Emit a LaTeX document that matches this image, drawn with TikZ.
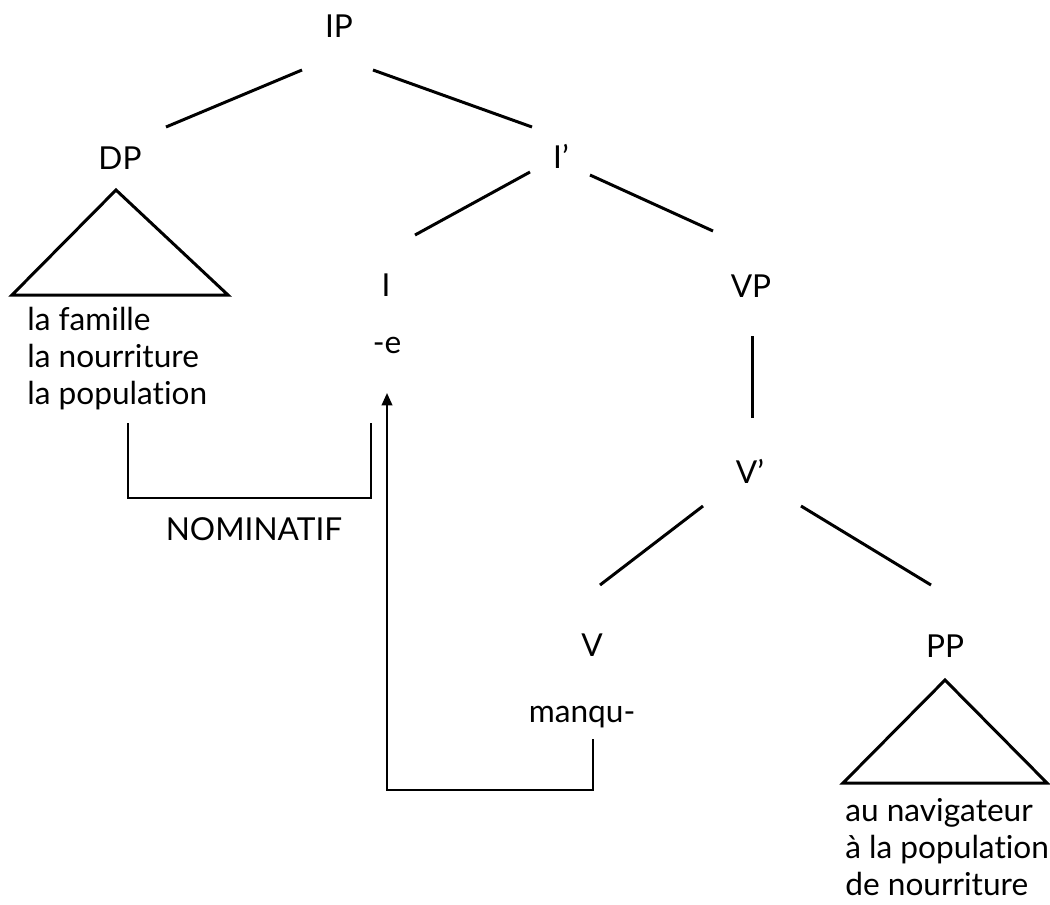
\documentclass[tikz,border=0pt]{standalone}
\usepackage{fontspec}
\setmainfont{Lato}[Ligatures={TeX,NoCommon}]
\usetikzlibrary{arrows.meta}

\tikzset{
  cat/.style={anchor=base, inner sep=0pt, font=\fontsize{18}{21}\selectfont},
  words/.style={anchor=base west, align=left, inner sep=0pt, font=\fontsize{18}{21}\selectfont},
  branch/.style={line width=1.7pt},
  tri/.style={line width=1.7pt, line join=miter},
  link/.style={line width=1.1pt},
}

\begin{document}
\begin{tikzpicture}[x=0.02cm,y=-0.02cm]
  \useasboundingbox (0,0) rectangle (1050,904);

% categories
  \node[cat] (IP)  at (339,37)  {IP};
  \node[cat] (DP)  at (120,169) {DP};
  \node[cat] (Ib)  at (561,168) {I'};
  \node[cat] (I)   at (386,296) {I};
  \node[cat] (e)   at (387,353) {-e};
  \node[cat] (VP)  at (751,297) {VP};
  \node[cat] (Vb)  at (750,483) {V'};
  \node[cat] (V)   at (592,656) {V};
  \node[cat] (mq)  at (582,722) {manqu-};
  \node[cat] (PP)  at (945,657) {PP};
  \node[cat] (nom) at (254,540) {NOMINATIF};

% words under the triangles (base is the last line)
  \node[words] (DPw) at (27,404)  {la famille\\la nourriture\\la population};
  \node[words] (PPw) at (845,895) {au navigateur\\à la population\\de nourriture};

% branch ends
  \coordinate (IP-l) at (302,70);  \coordinate (DP-r) at (166,127);
  \coordinate (IP-r) at (373,70);  \coordinate (Ib-l) at (532,127);
  \coordinate (Ib-a) at (530,172); \coordinate (I-r)  at (415,235);
  \coordinate (Ib-b) at (590,175); \coordinate (VP-l) at (713,231);
  \coordinate (VP-d) at (752,336); \coordinate (Vb-u) at (752,418);
  \coordinate (Vb-a) at (703,506); \coordinate (V-r)  at (600,585);
  \coordinate (Vb-b) at (801,506); \coordinate (PP-l) at (931,585);

% tree
  \draw[branch] (IP-l) -- (DP-r);
  \draw[branch] (IP-r) -- (Ib-l);
  \draw[branch] (Ib-a) -- (I-r);
  \draw[branch] (Ib-b) -- (VP-l);
  \draw[branch] (VP-d) -- (Vb-u);
  \draw[branch] (Vb-a) -- (V-r);
  \draw[branch] (Vb-b) -- (PP-l);

% triangles
  \draw[tri] (116,190) -- (228,295) -- (12,295) -- cycle;
  \draw[tri] (945,680) -- (1047,783) -- (843,783) -- cycle;

% case and movement
  \coordinate (nom-l) at (128,423);
  \coordinate (nom-r) at (371,423);
  \draw[link] (nom-l) -- ++(0,75) -| (nom-r);
  \coordinate (mv) at (593,739);
  \coordinate (e-in) at (387,393);
  \draw[link,-{Triangle[length=7pt,width=6pt]}] (mv) -- ++(0,51) -| (e-in);
\end{tikzpicture}
\end{document}
